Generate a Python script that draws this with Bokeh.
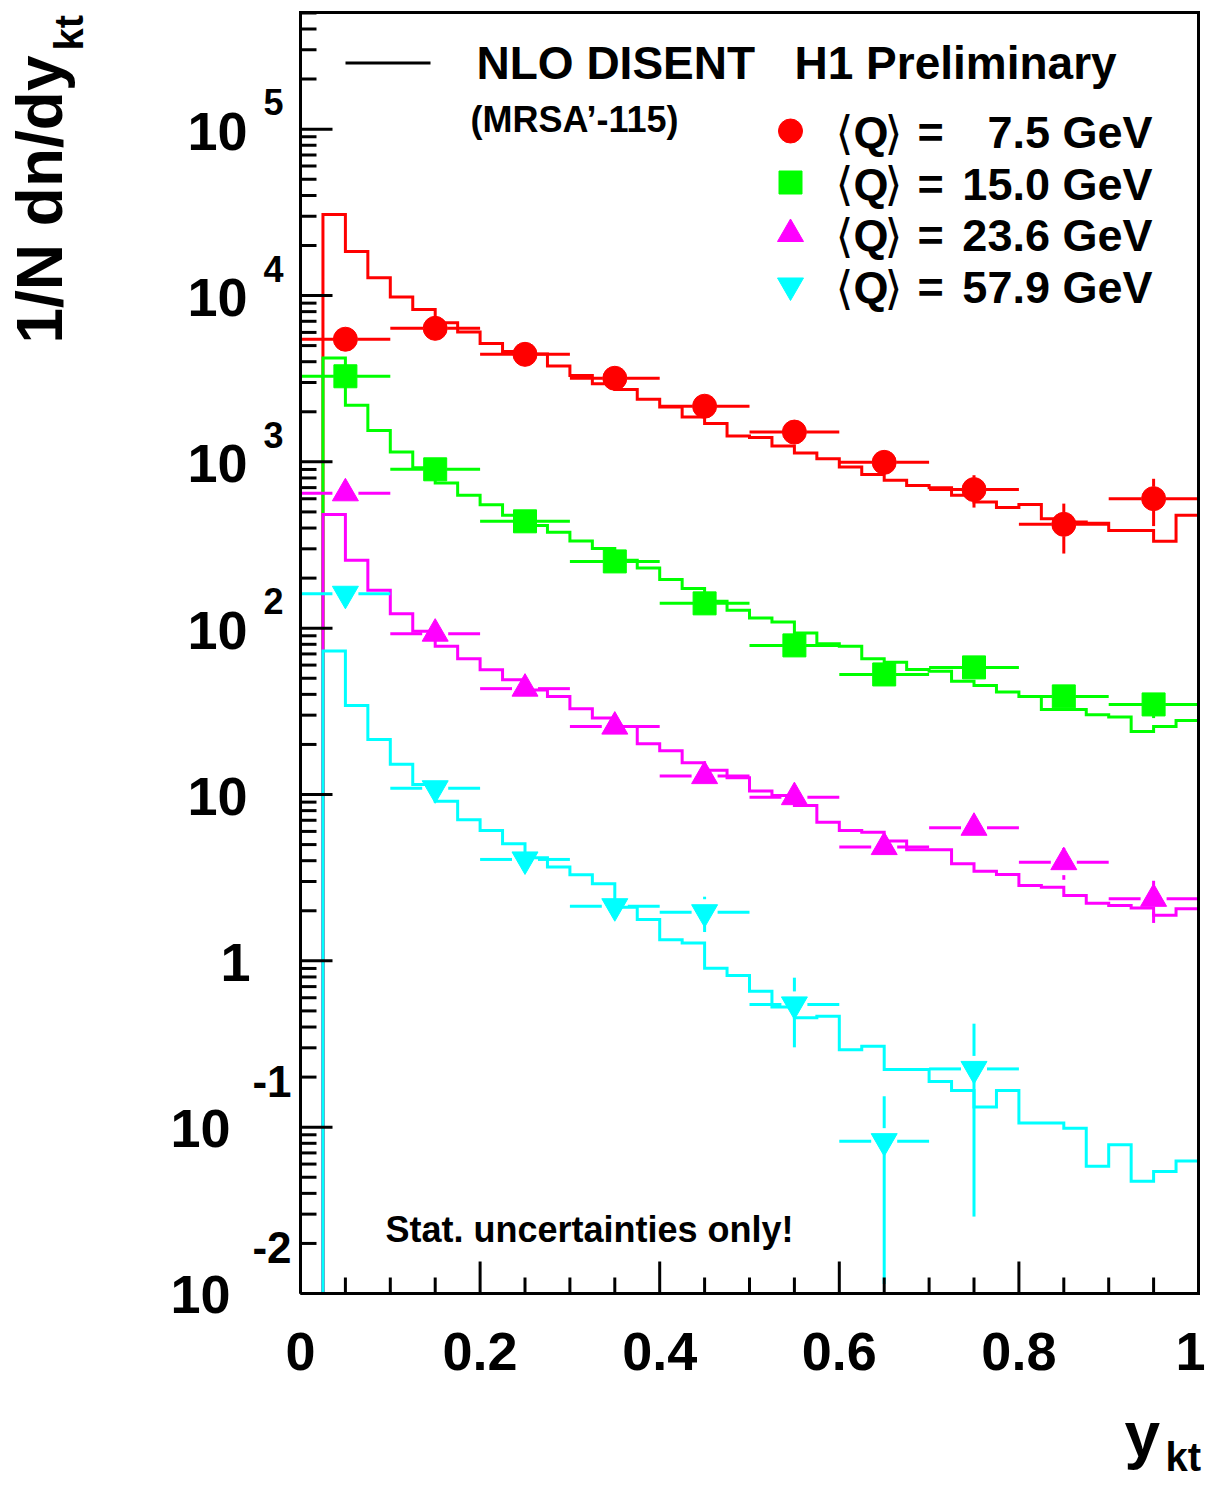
import numpy as np
from bokeh.plotting import figure
from bokeh.models import Label, Range1d
from bokeh.embed import file_html
from bokeh.resources import INLINE

# ------------------------------------------------------------------ data
# NLO DISENT histograms: 40 bins of 0.025 in y_kt (first bin 0-0.025 empty)
bin_edges = [round(0.025 * i, 3) for i in range(41)]
nlo_q7p5 = [0, 30700, 18400, 12800, 9800, 8230, 6870, 6040, 5140, 4610, 4450,
            3770, 3310, 2950, 2720, 2380, 2140, 1860, 1700, 1430, 1400,
            1245, 1130, 1045, 931, 838, 774, 722, 699, 629, 573,
            531, 555, 455, 435, 428, 387, 387, 333, 477]
nlo_q15 = [0, 4210, 2188, 1546, 1146, 923, 746, 629, 553, 477, 415,
           378, 334, 301, 256, 230, 196, 173, 145, 128, 115,
           109, 93.5, 80.7, 78, 65.6, 62.5, 56.5, 55, 47.9, 45.3,
           41.3, 38.9, 32.4, 32.4, 30.2, 29.2, 23.9, 25.6, 27.9]
nlo_q23p6 = [0, 482, 256, 169, 122, 95.7, 77.8, 65.6, 56.3, 49, 42.5,
             38.9, 32.8, 28.8, 25.6, 20.2, 18.3, 15.5, 14.0, 12.6, 10.5,
             9.88, 8.6, 6.82, 6.08, 5.94, 5.25, 4.66, 4.66, 3.84, 3.46,
             3.31, 2.84, 2.77, 2.47, 2.22, 2.15, 2.08, 1.88, 2.06]
nlo_q57p9 = [0, 72.8, 34.3, 21.4, 15.2, 11.5, 9.1, 7.05, 6.08, 5.06, 4.17,
             3.66, 3.29, 2.91, 2.10, 1.77, 1.34, 1.28, 0.904, 0.817, 0.657,
             0.527, 0.455, 0.465, 0.292, 0.307, 0.222, 0.222, 0.188, 0.166, 0.132,
             0.166, 0.106, 0.106, 0.0986, 0.0583, 0.0784, 0.0473, 0.0541, 0.0625]

# H1 data points (bin centres, bin half-width 0.05)
data_x = [0.05, 0.15, 0.25, 0.35, 0.45, 0.55, 0.65, 0.75, 0.85, 0.95]
data_halfwidth = 0.05
q7p5_y = [5460, 6350, 4430, 3180, 2160, 1510, 993, 681, 421, 601]
q7p5_err = [60, 80, 60, 50, 40, 40, 60, 150, 140, 190]
q15_y = [3270, 902, 439, 252, 141, 78.8, 52.7, 58.1, 38.9, 34.8]
q15_err = [30, 12, 7, 5, 3, 2, 2, 2.5, 2, 6]
q23p6_y = [647, 92.7, 43.3, 25.6, 12.9, 9.64, 4.83, 6.31, 3.92, 2.36]
q23p6_err = [8, 2, 1, 0.6, 0.4, 0.4, 0.3, 1.0, 0.85, 0.67]
q57p9_x = [0.05, 0.15, 0.25, 0.35, 0.45, 0.55, 0.65, 0.75]
q57p9_y = [161, 10.9, 4.07, 2.13, 1.96, 0.547, 0.0824, 0.224]
q57p9_err = [3, 0.5, 0.25, 0.3, 0.47, 0.245, 0.071, 0.195]

legend_labels = ["7.5 GeV", "15.0 GeV", "23.6 GeV", "57.9 GeV"]
x_major_ticks = [0, 0.2, 0.4, 0.6, 0.8, 1]
x_tick_labels = ["0", "0.2", "0.4", "0.6", "0.8", "1"]
x_minor_ticks = [round(0.05 * i, 2) for i in range(21)]
y_decades = list(range(-2, 6))

# ------------------------------------------------------------------ layout
W, H = 1209, 1486
FL, FR, FT, FB = 300, 1198, 12, 1293          # the drawn axis box, in canvas px
X_LO, X_HI = 0.0, 1.0
Y_LO, Y_HI = 1e-2, 5.03e5
LLO, LHI = np.log10(Y_LO), np.log10(Y_HI)
PX_PER_DEC = (FB - FT) / (LHI - LLO)
PX_PER_X = (FR - FL) / (X_HI - X_LO)

RED, GREEN, MAGENTA, CYAN = "#ff0000", "#00ff00", "#ff00ff", "#00ffff"
FONT = "Liberation Sans"
LW = 3


def to_x(px):
    return X_LO + (px - FL) / PX_PER_X


def to_y(py):
    return 10 ** (LLO + (FB - py) / PX_PER_DEC)


def py_of(v):
    return FB - (np.log10(v) - LLO) * PX_PER_DEC


# the figure's frame covers the whole canvas so that every text can be drawn
p = figure(width=W, height=H, x_range=Range1d(to_x(0), to_x(W)),
           y_range=Range1d(to_y(H), to_y(0)), y_axis_type="log",
           x_axis_location=None, y_axis_location=None,
           output_backend="svg", toolbar_location=None, min_border=0)
p.background_fill_color = "white"
p.border_fill_color = "white"
p.outline_line_color = None
p.xgrid.grid_line_color = None
p.ygrid.grid_line_color = None


def label(text, px, py, size, align="left", angle=0.0, font=FONT, style="bold"):
    """py is the vertical centre of the text line."""
    p.add_layout(Label(x=to_x(px), y=to_y(py), text=text, text_font=font,
                       text_font_style=style, text_font_size=f"{size}px",
                       text_align=align, text_baseline="middle", angle=angle,
                       text_color="black"))


# ------------------------------------------------------------------ histograms
def draw_hist(vals, color):
    xs = [bin_edges[1]] + bin_edges[1:-1] + [bin_edges[-1]]
    ys = [Y_LO] + [max(v, Y_LO) for v in vals[1:]] + [Y_LO]
    p.step(xs, ys, mode="after", line_color=color, line_width=LW, line_join="miter")


for vals, col in ((nlo_q7p5, RED), (nlo_q15, GREEN), (nlo_q23p6, MAGENTA), (nlo_q57p9, CYAN)):
    draw_hist(vals, col)


# ------------------------------------------------------------------ data points
def draw_points(xs, ys, errs, color, marker, size):
    gx = (size / 2) / PX_PER_X
    f = 10 ** ((size / 2) / PX_PER_DEC)
    x0, y0, x1, y1 = [], [], [], []
    for x, y, e in zip(xs, ys, errs):
        x0 += [x - data_halfwidth, x + gx]
        x1 += [x - gx, x + data_halfwidth]
        y0 += [y, y]
        y1 += [y, y]
        if y + e > y * f:
            x0.append(x); x1.append(x); y0.append(y * f); y1.append(y + e)
        if y - e < y / f:
            x0.append(x); x1.append(x); y0.append(y / f); y1.append(max(y - e, Y_LO))
    p.segment(x0, y0, x1, y1, line_color=color, line_width=LW)
    p.scatter(xs, ys, marker=marker, size=size, fill_color=color, line_color=color)


draw_points(data_x, q7p5_y, q7p5_err, RED, "circle", 24)
draw_points(data_x, q15_y, q15_err, GREEN, "square", 23)
draw_points(data_x, q23p6_y, q23p6_err, MAGENTA, "triangle", 26)
draw_points(q57p9_x, q57p9_y, q57p9_err, CYAN, "inverted_triangle", 26)

# ------------------------------------------------------------------ axis box + ticks
p.line([X_LO, X_HI, X_HI, X_LO, X_LO], [Y_LO, Y_LO, Y_HI, Y_HI, Y_LO],
       line_color="black", line_width=LW, line_join="miter")
MAJ, MIN = 32, 16
xt_maj = [t for t in x_major_ticks]
xt_min = [t for t in x_minor_ticks if t not in x_major_ticks]
p.segment(xt_maj, [Y_LO] * len(xt_maj), xt_maj, [to_y(FB - MAJ)] * len(xt_maj),
          line_color="black", line_width=LW)
p.segment(xt_min, [Y_LO] * len(xt_min), xt_min, [to_y(FB - MIN)] * len(xt_min),
          line_color="black", line_width=LW)
yt_maj = [10.0 ** e for e in y_decades]
yt_min = [m * 10.0 ** e for e in y_decades for m in range(2, 10) if m * 10.0 ** e <= Y_HI]
p.segment([X_LO] * len(yt_maj), yt_maj, [to_x(FL + MAJ)] * len(yt_maj), yt_maj,
          line_color="black", line_width=LW)
p.segment([X_LO] * len(yt_min), yt_min, [to_x(FL + MIN)] * len(yt_min), yt_min,
          line_color="black", line_width=LW)

# ------------------------------------------------------------------ legend
p.line([to_x(345), to_x(430)], [to_y(62.5), to_y(62.5)], line_color="black", line_width=LW)
leg_markers = [("circle", RED, 24), ("square", GREEN, 23), ("triangle", MAGENTA, 26),
               ("inverted_triangle", CYAN, 26)]
for i, ((mk, col, sz), txt) in enumerate(zip(leg_markers, legend_labels)):
    cy = 130.5 + 51.5 * i
    tc = 132 + 51.7 * i
    p.scatter([to_x(790)], [to_y(cy)], marker=mk, size=sz, fill_color=col, line_color=col)
    label("\u27e8", 835, tc, 46, font="DejaVu Sans", style="normal")
    label("Q", 853, tc, 45)
    label("\u27e9", 884, tc, 46, font="DejaVu Sans", style="normal")
    label("=", 917, tc, 45)
    label(txt, 1152, tc, 45, align="right")

label("NLO DISENT", 476, 62.5, 46)
label("H1 Preliminary", 794, 62.5, 46)
label("(MRSA\u2019-115)", 470, 119, 36)
label("Stat. uncertainties only!", 385, 1229, 36)

# ------------------------------------------------------------------ tick labels
for t, txt in zip(x_major_ticks, x_tick_labels):
    cx = FL + t * PX_PER_X
    if t == x_major_ticks[-1]:
        label(txt, W - 4, 1351, 54, align="right")
    else:
        label(txt, cx, 1351, 54, align="center")

for e in y_decades:
    ty = py_of(10.0 ** e)
    if e >= 2:
        label("10", 247, ty + 2, 54, align="right")
        label(str(e), 263, ty - 27, 36)
    elif e == 1:
        label("10", 247, ty + 2, 54, align="right")
    elif e == 0:
        label("1", 250, ty + 2, 54, align="right")
    else:
        label("10", 230, ty + 1, 54, align="right")
        label(str(e), 291, ty - 46, 44, align="right")

# ------------------------------------------------------------------ axis titles
label("1/N dn/dy", 39, 343, 64, angle=np.pi / 2)
label("kt", 68, 50, 40, angle=np.pi / 2)
label("y", 1124, 1434, 64)
label("kt", 1165, 1456, 40)

open("out.html", "w").write(file_html(p, INLINE))
